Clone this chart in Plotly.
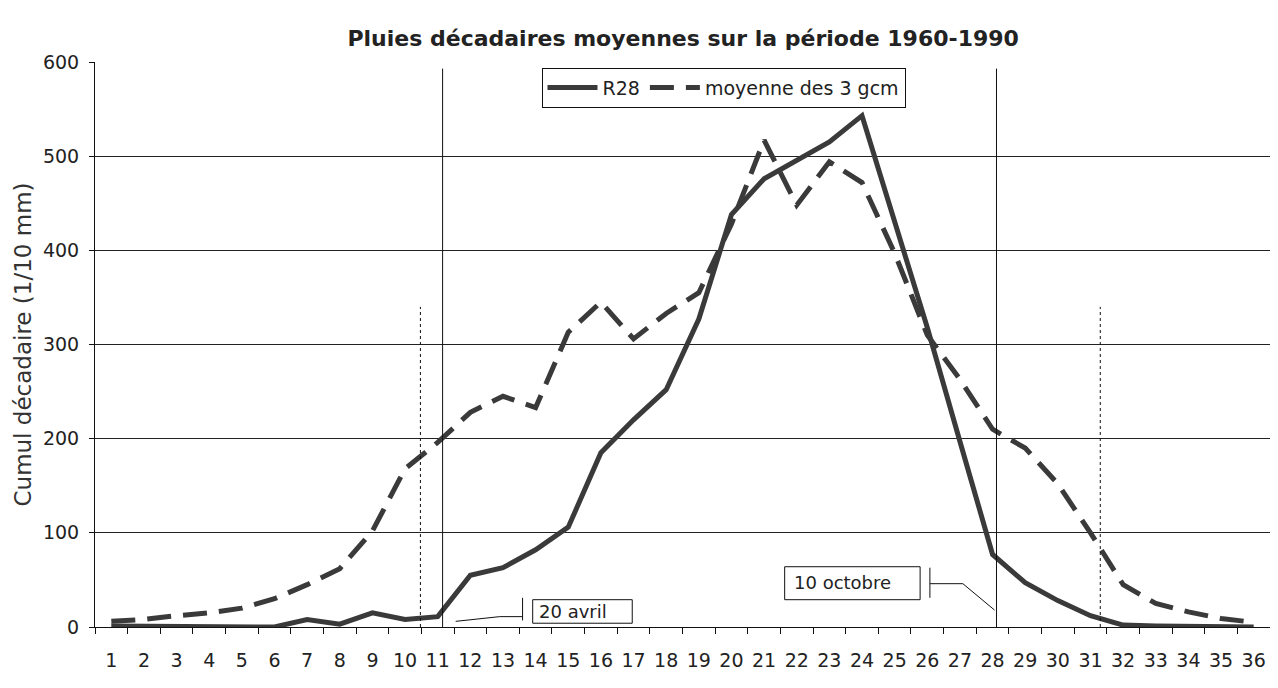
import plotly.graph_objects as go

# ---- data ----
decades = list(range(1, 37))
tick_labels = [str(d) for d in decades]
r28 = [1, 1, 1, 1, 1, 0, 8, 3, 15, 8, 11, 55, 63, 82, 106, 185, 220, 252,
       327, 438, 476, 496, 515, 543, 430, 318, 197, 77, 47, 28, 12, 2, 1, 1, 0, 0]
gcm = [6, 8, 12, 15, 20, 30, 45, 62, 102, 168, 196, 228, 245, 233, 313, 345, 306, 333,
       355, 428, 517, 448, 494, 472, 397, 310, 263, 210, 190, 152, 100, 45, 25, 16, 9, 5]
series_names = ["R28", "moyenne des 3 gcm"]
title_text = "Pluies décadaires moyennes sur la période 1960-1990"
ytitle_text = "Cumul décadaire (1/10 mm)"
y_ticks = [0, 100, 200, 300, 400, 500, 600]

FONT = "DejaVu Sans"
LINE_COLOR = "#3a3a3a"
INK = "#222222"

# page body has an 8px default margin: compensate so the plot lands where the reference has it
W, H = 1278 - 16, 688 - 16

fig = go.Figure()
fig.add_trace(go.Scatter(x=decades, y=r28, mode="lines", name=series_names[0],
                         line=dict(color=LINE_COLOR, width=5)))
fig.add_trace(go.Scatter(x=decades, y=gcm, mode="lines", name=series_names[1],
                         line=dict(color=LINE_COLOR, width=5, dash="24px,12px")))

# vertical markers
vlines = [
    (11.15, 593, "solid"),
    (10.47, 340, "dot"),
    (28.12, 593, "solid"),
    (31.3, 340, "dot"),
]
for xv, top, dash in vlines:
    fig.add_shape(type="line", xref="x", yref="y", x0=xv, x1=xv, y0=0, y1=top,
                  line=dict(color="#111111", width=1, dash=dash))

# "20 avril" callout
fig.add_shape(type="rect", xref="x", yref="y", x0=13.91, x1=16.96, y0=4, y1=29,
              line=dict(color="#111111", width=1), fillcolor="white")
fig.add_shape(type="line", xref="x", yref="y", x0=13.6, x1=13.6, y0=7, y1=31,
              line=dict(color="#111111", width=1))
fig.add_shape(type="path", xref="x", yref="y",
              path="M 11.55 6 L 12.9 11 L 13.6 11",
              line=dict(color="#111111", width=1))
fig.add_annotation(x=14.05, y=16, xref="x", yref="y", text="20 avril",
                   showarrow=False, xanchor="left", yanchor="middle",
                   font=dict(family=FONT, size=18, color=INK))

# "10 octobre" callout
fig.add_shape(type="rect", xref="x", yref="y", x0=21.63, x1=25.78, y0=29, y1=64,
              line=dict(color="#111111", width=1), fillcolor="white")
fig.add_shape(type="line", xref="x", yref="y", x0=26.08, x1=26.08, y0=31, y1=63,
              line=dict(color="#111111", width=1))
fig.add_shape(type="path", xref="x", yref="y",
              path="M 26.08 46 L 27.09 46 L 28.06 18",
              line=dict(color="#111111", width=1))
fig.add_annotation(x=21.85, y=47, xref="x", yref="y", text="10 octobre",
                   showarrow=False, xanchor="left", yanchor="middle",
                   font=dict(family=FONT, size=18, color=INK))

fig.update_layout(
    width=W, height=H,
    margin=dict(l=87, r=0, t=54, b=53),
    paper_bgcolor="white", plot_bgcolor="white",
    font=dict(family=FONT, color=INK),
    title=dict(text="<b>" + title_text + "</b>", x=0.535, xanchor="center",
               y=1 - 30 / H, yanchor="middle", yref="container",
               font=dict(family=FONT, size=22, color=INK)),
    legend=dict(orientation="h", x=0.38, y=0.99, xanchor="left", yanchor="top",
                bordercolor="#111111", borderwidth=1, bgcolor="white",
                font=dict(family=FONT, size=19, color=INK),
                itemwidth=50, tracegroupgap=0),
    showlegend=True,
)

fig.update_xaxes(
    range=[0.5, 36.5], tickmode="array", tickvals=decades, ticktext=tick_labels,
    ticks="", showgrid=False, zeroline=False,
    showline=True, linecolor="#111111", linewidth=1,
    tickfont=dict(family=FONT, size=19, color=INK), ticklabelstandoff=16,
    minor=dict(tickmode="linear", tick0=0.5, dtick=1, ticks="outside",
               ticklen=6, tickcolor="#111111", tickwidth=1, showgrid=False),
)
fig.update_yaxes(
    range=[0, 600], tickmode="array", tickvals=y_ticks,
    ticks="outside", ticklen=5, tickcolor="#111111", tickwidth=1,
    showgrid=True, gridcolor="#222222", gridwidth=1, zeroline=False,
    showline=True, linecolor="#111111", linewidth=1,
    tickfont=dict(family=FONT, size=19, color=INK), ticklabelstandoff=6,
    title=dict(text=ytitle_text, font=dict(family=FONT, size=23, color="#333333"),
               standoff=4),
)

fig.write_html("out.html")
